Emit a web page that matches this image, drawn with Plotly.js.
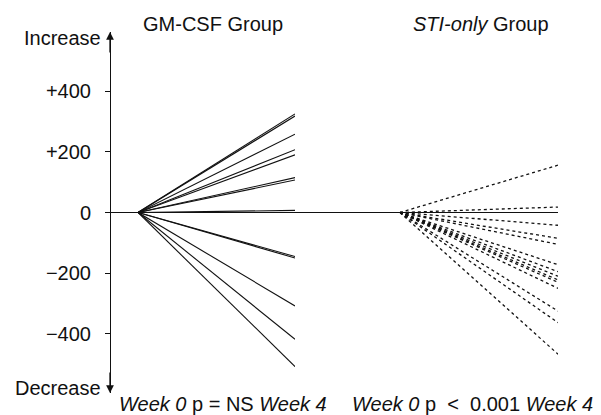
<!DOCTYPE html>
<html>
<head>
<meta charset="utf-8">
<script src="https://cdn.plot.ly/plotly-3.0.1.min.js"></script>
<style>html,body{margin:0;padding:0;background:#fff;}#chart{width:601px;height:415px;}</style>
</head>
<body>
<div id="chart"></div>
<script>
// Data: change from week 0 to week 4
const weeks = [0, 4];
const gmcsfWeek4 = [325, 318, 258, 207, 190, 115, 107, 7, -145, -150, -308, -418, -508];
const stiWeek4 = [156, 18, -42, -85, -105, -172, -195, -210, -222, -230, -250, -325, -363, -467];
const tickVals = [-400, -200, 0, 200, 400];
const tickText = ['\u2212400', '\u2212200', '0', '+200', '+400'];
const groupTitles = ['GM-CSF Group', '<i>STI-only</i> Group'];
const bottomLabels = ['<i>Week 0</i> p = NS <i>Week 4</i>', '<i>Week 0</i> p \u00a0<\u00a0 0.001 <i>Week 4</i>'];

const FONT = 'Liberation Sans, Arial, sans-serif';
const traces = [];
gmcsfWeek4.forEach(v => traces.push({
  x: weeks, y: [0, v], type: 'scatter', mode: 'lines',
  line: {color: '#111', width: 1.1}, xaxis: 'x', yaxis: 'y', showlegend: false, hoverinfo: 'skip'
}));
stiWeek4.forEach(v => traces.push({
  x: weeks, y: [0, v], type: 'scatter', mode: 'lines',
  line: {color: '#111', width: 1.3, dash: 'dot'}, xaxis: 'x2', yaxis: 'y', showlegend: false, hoverinfo: 'skip'
}));

const yr = [-595, 595];
const layout = {
  width: 601, height: 415,
  margin: {l: 110, r: 43, t: 32, b: 22},
  paper_bgcolor: '#fff', plot_bgcolor: 'rgba(0,0,0,0)',
  font: {family: FONT, size: 20, color: '#111'},
  showlegend: false,
  xaxis: {domain: [0.0625, 0.413], range: [0, 4], visible: false, fixedrange: true},
  xaxis2: {domain: [0.647, 1.0], range: [0, 4], visible: false, fixedrange: true, anchor: 'y'},
  yaxis: {
    range: yr, anchor: 'free', position: 0, showgrid: false, zeroline: false,
    showline: true, linecolor: '#111', linewidth: 1.3,
    ticks: 'outside', ticklen: 5, tickcolor: '#111', tickwidth: 1,
    tickvals: tickVals, ticktext: tickText, ticklabelstandoff: 10,
    tickfont: {family: FONT, size: 20, color: '#111'}
  },
  yaxis2: {
    range: yr, overlaying: 'y', anchor: 'free', position: 0, side: 'left',
    showgrid: false, zeroline: false, showline: false,
    ticks: 'inside', ticklen: 4, tickcolor: '#111', tickwidth: 1,
    tickvals: tickVals, showticklabels: false
  },
  shapes: [
    {type: 'line', xref: 'paper', yref: 'y', x0: 0, x1: 1, y0: 0, y1: 0, line: {color: '#111', width: 1.2}}
  ],
  annotations: [
    {xref: 'paper', yref: 'paper', x: 0, y: 1, ax: 0, ay: 22, text: '', showarrow: true, arrowhead: 2, arrowsize: 1.2, arrowwidth: 1.3, arrowcolor: '#111'},
    {xref: 'paper', yref: 'paper', x: 0, y: 0, ax: 0, ay: -22, text: '', showarrow: true, arrowhead: 2, arrowsize: 1.2, arrowwidth: 1.3, arrowcolor: '#111'},
    {xref: 'paper', yref: 'paper', x: 0, y: 1, xanchor: 'right', yanchor: 'middle', xshift: -7, yshift: -6, text: 'Increase', showarrow: false},
    {xref: 'paper', yref: 'paper', x: 0, y: 0, xanchor: 'right', yanchor: 'middle', xshift: -7, yshift: 5, text: 'Decrease', showarrow: false},
    {xref: 'x domain', yref: 'paper', x: 0.475, y: 1, yanchor: 'middle', yshift: 8, text: groupTitles[0], showarrow: false},
    {xref: 'x2 domain', yref: 'paper', x: 0.513, y: 1, yanchor: 'middle', yshift: 8, text: groupTitles[1], showarrow: false},
    {xref: 'paper', yref: 'paper', x: 0.016, y: 0, xanchor: 'left', yanchor: 'middle', yshift: -11, text: bottomLabels[0], showarrow: false},
    {xref: 'paper', yref: 'paper', x: 0.536, y: 0, xanchor: 'left', yanchor: 'middle', yshift: -11, text: bottomLabels[1], showarrow: false}
  ]
};
Plotly.newPlot('chart', traces, layout, {displayModeBar: false, staticPlot: true});
</script>
</body>
</html>
